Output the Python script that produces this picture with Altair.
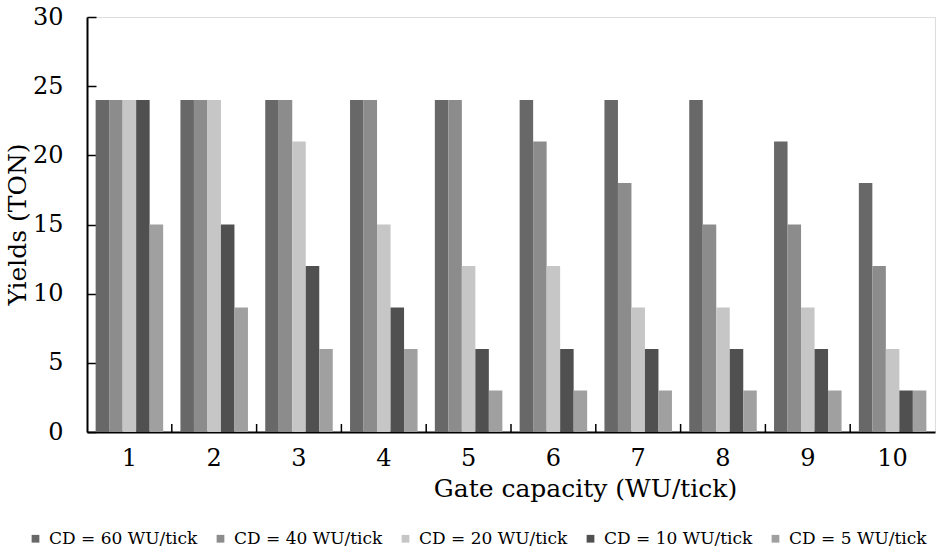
import altair as alt
import pandas as pd

groups = [1, 2, 3, 4, 5, 6, 7, 8, 9, 10]
series = ["CD = 60 WU/tick", "CD = 40 WU/tick", "CD = 20 WU/tick", "CD = 10 WU/tick", "CD = 5 WU/tick"]
cd60 = [24, 24, 24, 24, 24, 24, 24, 24, 21, 18]
cd40 = [24, 24, 24, 24, 24, 21, 18, 15, 15, 12]
cd20 = [24, 24, 21, 15, 12, 12, 9, 9, 9, 6]
cd10 = [24, 15, 12, 9, 6, 6, 6, 6, 6, 3]
cd5 = [15, 9, 6, 6, 3, 3, 3, 3, 3, 3]
colors = ["#686868", "#8c8c8c", "#c6c6c6", "#505050", "#a0a0a0"]

rows = []
for s, vals in zip(series, [cd60, cd40, cd20, cd10, cd5]):
    for g, v in zip(groups, vals):
        rows.append({"group": g, "series": s, "value": v})
df = pd.DataFrame(rows)
ticks_df = pd.DataFrame({"group": groups[1:]})

FONT = "DejaVu Serif"
H = 415

xscale = alt.Scale(domain=groups, paddingInner=0, paddingOuter=0)
xaxis = alt.Axis(title="Gate capacity (WU/tick)", labelAngle=0,
                 labelFont=FONT, labelFontSize=24, labelColor="black",
                 labelPadding=14, ticks=False, tickSize=0,
                 domainColor="black", domainWidth=2, grid=False,
                 titleFont=FONT, titleFontSize=25, titleFontWeight="normal",
                 titleColor="black", titleX=498, titleY=56,
                 titleBaseline="middle")

bars = alt.Chart(df).mark_bar().encode(
    x=alt.X("group:O", scale=xscale, axis=xaxis),
    xOffset=alt.XOffset("series:N", sort=series,
                        scale=alt.Scale(paddingInner=0, paddingOuter=0.64)),
    y=alt.Y("value:Q",
            scale=alt.Scale(domain=[0, 30], nice=False, zero=True),
            axis=alt.Axis(title="Yields (TON)", values=[0, 5, 10, 15, 20, 25, 30],
                          labelFont=FONT, labelFontSize=24, labelColor="black",
                          labelPadding=24, ticks=False, tickSize=0,
                          domainColor="black", domainWidth=2,
                          grid=True, gridColor="black", gridWidth=1.5,
                          gridDash=[9, 3000],
                          titleFont=FONT, titleFontSize=25, titleFontWeight="normal",
                          titleColor="black", titleX=-70, titleY=207,
                          titleAlign="center", titleBaseline="middle")),
    color=alt.Color("series:N", sort=series,
                    scale=alt.Scale(domain=series, range=colors),
                    legend=alt.Legend(title=None, orient="none", direction="horizontal",
                                      columns=5, legendX=-60, legendY=513,
                                      symbolType="square", symbolSize=60,
                                      symbolStrokeWidth=0, symbolOffset=0,
                                      labelFont=FONT, labelFontSize=17,
                                      labelColor="black", labelOffset=5,
                                      columnPadding=14)),
)

xticks = alt.Chart(ticks_df).mark_rule(color="black", strokeWidth=1.5).encode(
    x=alt.X("group:O", scale=xscale, bandPosition=0, axis=xaxis),
    y=alt.value(H),
    y2=alt.value(H - 8),
)

chart = alt.layer(bars, xticks).properties(
    width=848,
    height=H,
    padding={"left": 87, "top": 17, "right": 2, "bottom": 119},
    autosize=alt.AutoSizeParams(type="none"),
).configure_view(stroke=None).configure(background="white")

chart.save("out.html", embed_options={"renderer": "svg", "actions": False})
